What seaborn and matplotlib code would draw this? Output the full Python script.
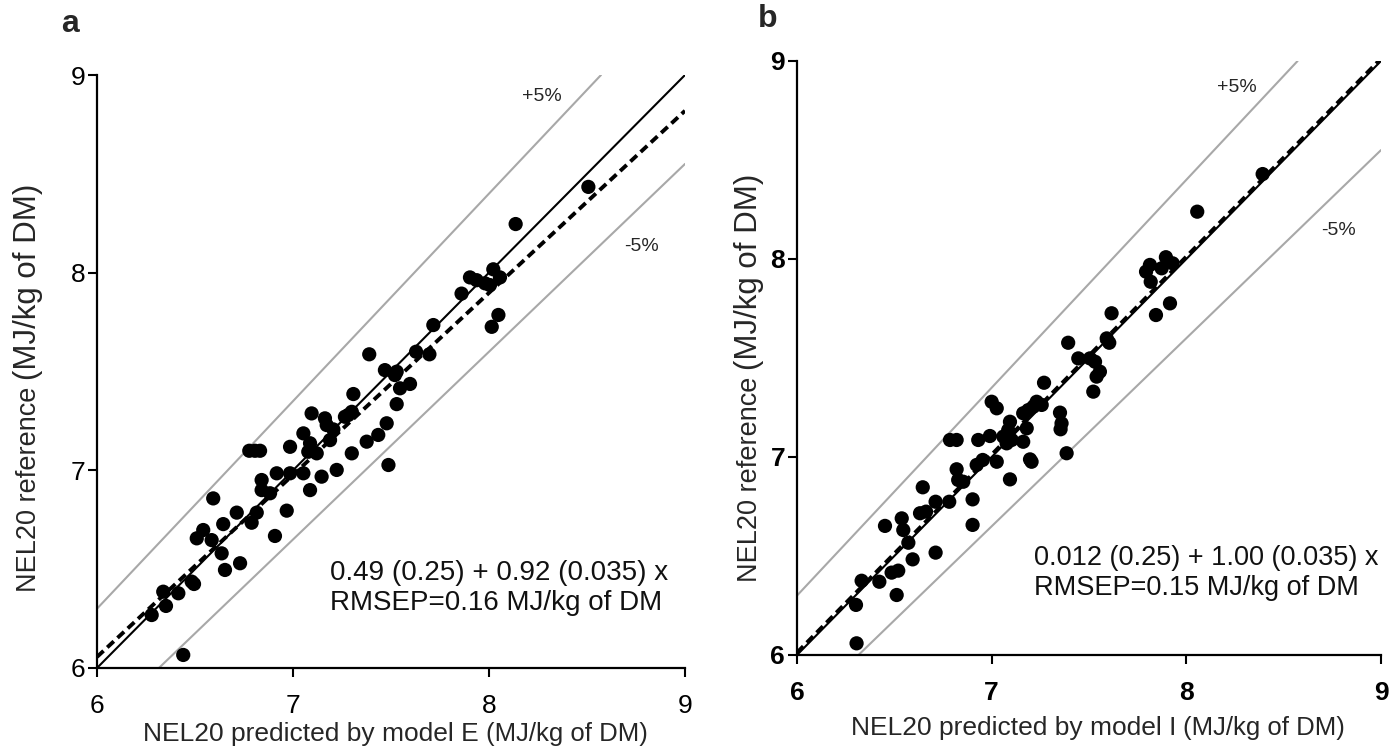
import numpy as np
import pandas as pd
import matplotlib
matplotlib.use("Agg")
import matplotlib.pyplot as plt
import seaborn as sns

# ---------------- data ----------------
a_pred = [6.279, 6.352, 6.338, 6.415, 6.483, 6.495, 6.440, 6.509, 6.542, 6.585,
          6.593, 6.636, 6.644, 6.653, 6.713, 6.730, 6.789, 6.815, 6.777, 6.806,
          6.832, 6.840, 6.840, 6.883, 6.908, 6.917, 6.968, 6.985, 6.985, 7.053,
          7.053, 7.087, 7.087, 7.078, 7.121, 7.095, 7.146, 7.163, 7.172, 7.189,
          7.206, 7.223, 7.265, 7.282, 7.300, 7.300, 7.308, 7.376, 7.389, 7.435,
          7.478, 7.487, 7.469, 7.529, 7.520, 7.546, 7.529, 7.597, 7.628, 7.696,
          7.716, 7.860, 7.903, 7.937, 7.980, 8.005, 8.022, 8.056, 8.048, 8.014,
          8.136, 8.507]
a_ref = [6.268, 6.314, 6.386, 6.378, 6.437, 6.425, 6.066, 6.656, 6.698, 6.647,
         6.858, 6.580, 6.728, 6.496, 6.786, 6.530, 6.735, 6.786, 7.099, 7.099,
         7.099, 6.951, 6.900, 6.884, 6.668, 6.985, 6.796, 6.985, 7.119, 6.985,
         7.187, 6.900, 7.137, 7.094, 7.086, 7.288, 6.968, 7.263, 7.229, 7.153,
         7.207, 7.002, 7.271, 7.280, 7.296, 7.086, 7.386, 7.145, 7.587, 7.179,
         7.238, 7.027, 7.507, 7.499, 7.482, 7.415, 7.335, 7.437, 7.600, 7.587,
         7.735, 7.894, 7.976, 7.962, 7.946, 7.937, 8.017, 7.976, 7.786, 7.726,
         8.246, 8.434]

b_pred = [6.306, 6.303, 6.332, 6.423, 6.486, 6.520, 6.512, 6.452, 6.538, 6.546,
          6.572, 6.594, 6.632, 6.663, 6.646, 6.712, 6.712, 6.782, 6.786, 6.820,
          6.820, 6.828, 6.854, 6.902, 6.902, 6.923, 6.954, 6.931, 6.991, 7.000,
          7.026, 7.026, 7.094, 7.094, 7.085, 7.103, 7.077, 7.060, 7.162, 7.188,
          7.214, 7.231, 7.257, 7.180, 7.162, 7.197, 7.205, 7.269, 7.351, 7.359,
          7.354, 7.385, 7.393, 7.445, 7.505, 7.531, 7.556, 7.539, 7.522, 7.591,
          7.604, 7.616, 7.793, 7.813, 7.817, 7.873, 7.895, 7.930, 7.844, 7.916,
          8.056, 8.392]
b_ref = [6.059, 6.253, 6.375, 6.370, 6.416, 6.426, 6.303, 6.652, 6.690, 6.631,
         6.567, 6.483, 6.716, 6.724, 6.847, 6.774, 6.517, 6.774, 7.086, 7.086,
         6.938, 6.884, 6.875, 6.786, 6.657, 6.960, 6.985, 7.086, 7.106, 7.279,
         7.246, 6.976, 7.178, 6.887, 7.136, 7.086, 7.069, 7.103, 7.221, 7.237,
         7.254, 7.279, 7.263, 7.145, 7.077, 6.988, 6.976, 7.375, 7.224, 7.170,
         7.140, 7.019, 7.577, 7.498, 7.498, 7.481, 7.431, 7.406, 7.330, 7.599,
         7.577, 7.726, 7.936, 7.970, 7.885, 7.953, 8.009, 7.978, 7.717, 7.776,
         8.239, 8.429]

# regression lines (intercept, slope) and the +/-5 % band
a_fit = [0.53, 0.921]
b_fit = [0.012, 1.00]
band = 0.05

ticks = [6, 7, 8, 9]
eq_a = ["0.49 (0.25) + 0.92 (0.035) x", "RMSEP=0.16 MJ/kg of DM"]
eq_b = ["0.012 (0.25) + 1.00 (0.035) x", "RMSEP=0.15 MJ/kg of DM"]
ylab = ["NEL20 reference", "(MJ/kg of DM)"]
xlab_a = ["NEL20 predicted by model E", "(MJ/kg of DM)"]
xlab_b = ["NEL20 predicted by model I", "(MJ/kg of DM)"]

# ---------------- style ----------------
sns.set_theme(style="ticks")
plt.rcParams['font.family'] = ['Liberation Sans', 'DejaVu Sans']

fig = plt.figure(figsize=(13.97, 7.51), dpi=100)
axa = fig.add_axes([0.06943, 0.11052, 0.42090, 0.78961])
axb = fig.add_axes([0.57051, 0.12783, 0.41804, 0.79095])

GREY = '#a8a8a8'


def panel(ax, xp, yr, fit, eq, bold, eq_pos, eq_size, plus_pos, minus_pos):
    lo, hi = ticks[0], ticks[-1]
    # +5 % and -5 % lines
    ux = np.array([lo, hi / (1 + band)])
    ax.plot(ux, (1 + band) * ux, color=GREY, lw=1.5, zorder=1)
    lx = np.array([lo / (1 - band), hi])
    ax.plot(lx, (1 - band) * lx, color=GREY, lw=1.5, zorder=1)
    # identity line
    xs = np.array([lo, hi])
    ax.plot(xs, xs, color='black', lw=1.5, zorder=2)
    # regression line (dashed)
    ax.plot(xs, fit[0] + fit[1] * xs, color='black', lw=2.8,
            ls=(0, (2.3, 1.3)), zorder=2)
    df = pd.DataFrame({"pred": xp, "ref": yr})
    sns.scatterplot(data=df, x="pred", y="ref", ax=ax, color='black', s=105,
                    linewidth=0, edgecolor='none', zorder=3, legend=False)
    ax.set_xlim(lo, hi)
    ax.set_ylim(lo, hi)
    ax.set_xticks(ticks)
    ax.set_yticks(ticks)
    ax.set_xlabel("")
    ax.set_ylabel("")
    for s in ['top', 'right']:
        ax.spines[s].set_visible(False)
    for s in ['left', 'bottom']:
        ax.spines[s].set_linewidth(1.6)
        ax.spines[s].set_color('black')
    ax.tick_params(direction='out', length=6.5, width=1.5, colors='black',
                   labelsize=19)
    ax.tick_params(axis='x', pad=12)
    ax.tick_params(axis='y', pad=2)
    if bold:
        for lab in ax.get_xticklabels() + ax.get_yticklabels():
            lab.set_fontweight('bold')
    ax.text(eq_pos[0], eq_pos[1], eq[0] + "\n" + eq[1], fontsize=eq_size,
            ha='left', va='center', linespacing=1.2, color='#111111')
    ax.text(plus_pos[0], plus_pos[1], "+5%", fontsize=14, ha='center',
            va='center')
    ax.text(minus_pos[0], minus_pos[1], "-5%", fontsize=14, ha='center',
            va='center')
    ax.set_facecolor('white')


panel(axa, a_pred, a_ref, a_fit, eq_a, False, (7.19, 6.405), 20,
      (8.27, 8.89), (8.78, 8.13))
panel(axb, b_pred, b_ref, b_fit, eq_b, True, (7.22, 6.415), 19.5,
      (8.26, 8.865), (8.78, 8.146))

fig.text(0.050, 0.968, "a", fontsize=23, fontweight='bold', ha='center',
         va='center')
fig.text(0.5497, 0.975, "b", fontsize=23, fontweight='bold', ha='center',
         va='center')

renderer = fig.canvas.get_renderer()


def multi_label(x, y, parts, sizes, rotation, gap_px=7):
    for text, size in zip(parts, sizes):
        t = fig.text(x, y, text, fontsize=size, rotation=rotation,
                     rotation_mode='anchor', ha='left', va='baseline')
        bb = t.get_window_extent(renderer)
        if rotation == 0:
            x += (bb.width + gap_px) / fig.bbox.width
        else:
            y += (bb.height + gap_px) / fig.bbox.height


multi_label(143 / 1397, 1 - 741 / 751, xlab_a, [19, 18.5], 0)
multi_label(851 / 1397, 1 - 735 / 751, xlab_b, [19, 18.5], 0)
multi_label(36 / 1397, 1 - 592 / 751, ylab, [19.5, 22.5], 90)
multi_label(757 / 1397, 1 - 582 / 751, ylab, [19.5, 22.5], 90)

fig.savefig("out.png", dpi=100, facecolor='white')
